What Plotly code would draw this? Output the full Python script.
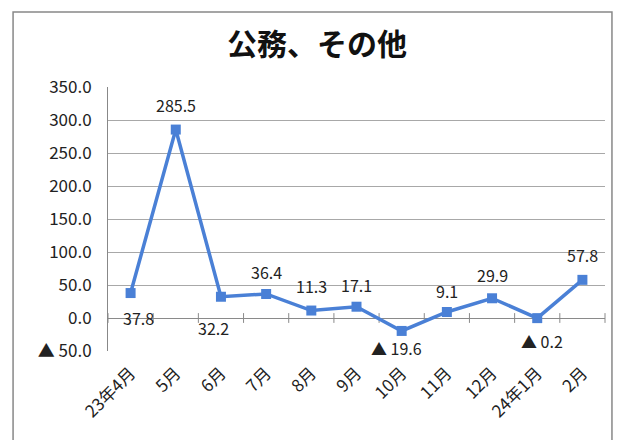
import plotly.graph_objects as go

categories = ["23年4月", "5月", "6月", "7月", "8月", "9月", "10月", "11月", "12月", "24年1月", "2月"]
values = [37.8, 285.5, 32.2, 36.4, 11.3, 17.1, -19.6, 9.1, 29.9, -0.2, 57.8]
y_ticks = [-50, 0, 50, 100, 150, 200, 250, 300, 350]

# label placement offsets (pixels), kept apart from the data
label_dx = [8, 0, -7, 0, 0, 0, -5, 0, 0, 5, 0]
label_dy = [-25, 25, -31, 22, 25, 22, -17, 21, 23, -23, 25]


def fmt(v):
    return ("▲ %.1f" % abs(v)) if v < 0 else ("%.1f" % v)


labels = [fmt(v) for v in values]
tick_text = [fmt(v) for v in y_ticks]

font_main = "Noto Sans CJK JP, Noto Sans, sans-serif"
xs = list(range(len(categories)))

fig = go.Figure()
# small tick marks on the zero line at category boundaries
fig.add_trace(go.Scatter(
    x=[i + 0.5 for i in xs[:-1]] + [-0.5, len(categories) - 0.5], y=[0] * (len(categories) + 1),
    mode="markers", marker=dict(symbol="line-ns-open", size=7, color="#8a8a8a", line=dict(width=1, color="#8a8a8a")),
    hoverinfo="skip", showlegend=False, cliponaxis=False,
))
fig.add_trace(go.Scatter(
    x=xs, y=values,
    mode="lines+markers",
    line=dict(color="#4a80d6", width=3.5),
    marker=dict(symbol="square", size=10, color="#4a80d6"),
    cliponaxis=False,
    showlegend=False,
))

annotations = [
    dict(x=x, y=v, text=t, showarrow=False, xshift=dx, yshift=dy,
         font=dict(size=16, color="#222222", family=font_main))
    for x, v, t, dx, dy in zip(xs, values, labels, label_dx, label_dy)
]

fig.update_layout(
    width=632, height=440,
    margin=dict(l=100, r=35, t=79, b=97),
    paper_bgcolor="white", plot_bgcolor="white",
    title=dict(text="<b>公務、その他</b>", x=0.489, xanchor="center", y=0.916, yanchor="middle",
               font=dict(size=30, color="#111111", family=font_main)),
    font=dict(family=font_main, color="#222222"),
    xaxis=dict(
        range=[-0.5, len(categories) - 0.5],
        tickvals=xs, ticktext=categories,
        tickangle=-45, showgrid=False, zeroline=False,
        showline=False, ticks="", ticklabelstandoff=8,
        tickfont=dict(size=17, family=font_main),
    ),
    yaxis=dict(
        range=[-50, 350], tickvals=y_ticks, ticktext=tick_text,
        showgrid=True, gridcolor="#a8a8a8", gridwidth=1,
        zeroline=True, zerolinecolor="#8a8a8a", zerolinewidth=1,
        showline=True, linecolor="#888888", linewidth=1,
        ticks="", ticklabelstandoff=12, tickfont=dict(size=17, family=font_main),
    ),
    annotations=annotations,
    shapes=[dict(type="rect", xref="paper", yref="paper",
                 x0=-0.191, x1=1.014, y0=-0.5, y1=1.284,
                 line=dict(color="#888888", width=1.5))],
)

fig.write_html("out.html")
